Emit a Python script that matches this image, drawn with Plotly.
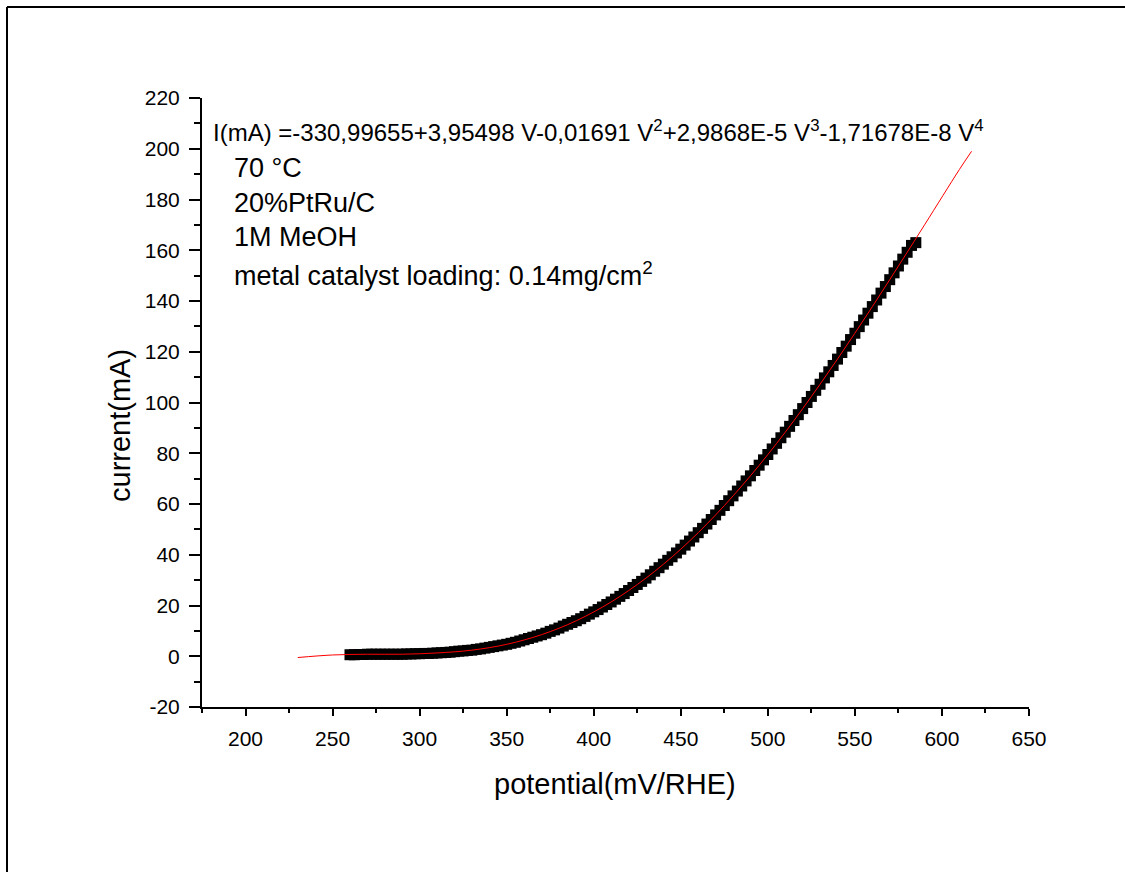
import plotly.graph_objects as go

# Measured data (potential in mV vs RHE, current in mA)
potential = [260, 262.5, 265, 267.5, 270, 272.5, 275, 277.5, 280, 282.5, 285, 287.5, 290, 292.5, 295, 297.5,
             300, 302.5, 305, 307.5, 310, 312.5, 315, 317.5, 320, 322.5, 325, 327.5, 330, 332.5, 335, 337.5,
             340, 342.5, 345, 347.5, 350, 352.5, 355, 357.5, 360, 362.5, 365, 367.5, 370, 372.5, 375, 377.5,
             380, 382.5, 385, 387.5, 390, 392.5, 395, 397.5, 400, 402.5, 405, 407.5, 410, 412.5, 415, 417.5,
             420, 422.5, 425, 427.5, 430, 432.5, 435, 437.5, 440, 442.5, 445, 447.5, 450, 452.5, 455, 457.5,
             460, 462.5, 465, 467.5, 470, 472.5, 475, 477.5, 480, 482.5, 485, 487.5, 490, 492.5, 495, 497.5,
             500, 502.5, 505, 507.5, 510, 512.5, 515, 517.5, 520, 522.5, 525, 527.5, 530, 532.5, 535, 537.5,
             540, 542.5, 545, 547.5, 550, 552.5, 555, 557.5, 560, 562.5, 565, 567.5, 570, 572.5, 575, 577.5,
             580, 582.5, 585]
current = [0.6, 0.6, 0.7, 0.7, 0.8, 0.8, 0.8, 0.8, 0.8, 0.8, 0.8, 0.8, 0.8, 0.9, 0.9, 1.0,
           1.0, 1.1, 1.1, 1.2, 1.3, 1.4, 1.5, 1.6, 1.8, 2.0, 2.1, 2.3, 2.4, 2.7, 2.9, 3.2,
           3.5, 3.8, 4.1, 4.4, 4.7, 5.1, 5.5, 6.0, 6.5, 7.0, 7.5, 8.0, 8.5, 9.1, 9.8, 10.4,
           11.1, 11.9, 12.6, 13.3, 14.0, 14.8, 15.7, 16.6, 17.5, 18.4, 19.4, 20.4, 21.4, 22.5, 23.6, 24.7,
           25.9, 27.1, 28.3, 29.5, 30.8, 32.1, 33.5, 34.9, 36.3, 37.8, 39.2, 40.7, 42.2, 43.8, 45.4, 47.0,
           48.7, 50.4, 52.1, 53.9, 55.7, 57.5, 59.4, 61.3, 63.2, 65.1, 67.1, 69.1, 71.1, 73.2, 75.3, 77.4,
           79.5, 81.7, 83.9, 86.1, 88.3, 90.6, 92.9, 95.2, 97.6, 100.0, 102.4, 104.8, 107.2, 109.7, 112.1, 114.6,
           117.1, 119.7, 122.2, 124.8, 127.3, 129.9, 132.5, 135.2, 137.8, 140.4, 143.1, 145.7, 148.4, 151.1, 153.8, 156.5,
           159.2, 161.9, 163.0]

# Polynomial fit curve
fit_potential = [230, 250, 270, 290, 310, 330, 350, 370, 390, 410, 430, 450, 470, 490, 510, 530, 550, 570, 590, 610, 617]
fit_current = [-0.5, 0.5, 0.8, 0.8, 1.3, 2.4, 4.7, 8.5, 14.0, 21.4, 30.8, 42.2, 55.7, 71.1, 88.3, 107.2, 127.3, 148.4, 170.0, 191.8, 199.0]

x_ticks = [200, 250, 300, 350, 400, 450, 500, 550, 600, 650]
x_labels = ["200", "250", "300", "350", "400", "450", "500", "550", "600", "650"]
y_ticks = [-20, 0, 20, 40, 60, 80, 100, 120, 140, 160, 180, 200, 220]
y_labels = ["-20", "0", "20", "40", "60", "80", "100", "120", "140", "160", "180", "200", "220"]

x_title = "potential(mV/RHE)"
y_title = "current(mA)"
equation = ("I(mA) =-330,99655+3,95498 V-0,01691 V<sup>2</sup>+2,9868E-5 V<sup>3</sup>"
            "-1,71678E-8 V<sup>4</sup>")
notes = ["70 °C", "20%PtRu/C", "1M MeOH", "metal catalyst loading: 0.14mg/cm<sup>2</sup>"]

FONT = "Liberation Sans, Arial, sans-serif"
W, H = 1125, 872
L, R, T, B = 202, 1029, 98, 707


def px(xp):
    return (xp - L) / (R - L)


def py(yp):
    return (B - yp) / (B - T)


fig = go.Figure()
fig.add_trace(go.Scatter(x=potential, y=current, mode="markers",
                         marker=dict(symbol="square", size=11, color="black", line=dict(width=0)),
                         showlegend=False))
fig.add_trace(go.Scatter(x=fit_potential, y=fit_current, mode="lines",
                         line=dict(color="red", width=1, shape="spline"), showlegend=False))

annotations = [dict(text=equation, x=px(211), y=py(131), xref="paper", yref="paper",
                    xanchor="left", yanchor="middle", showarrow=False,
                    font=dict(family=FONT, size=24, color="black"))]
note_y = [168, 203, 237, 274]
for t, yy in zip(notes, note_y):
    annotations.append(dict(text=t, x=px(232), y=py(yy), xref="paper", yref="paper",
                            xanchor="left", yanchor="middle", showarrow=False,
                            font=dict(family=FONT, size=27, color="black")))
annotations.append(dict(text=x_title, x=px(615), y=py(784), xref="paper", yref="paper",
                        xanchor="center", yanchor="middle", showarrow=False,
                        font=dict(family=FONT, size=29, color="black")))
annotations.append(dict(text=y_title, x=px(120), y=py(426), xref="paper", yref="paper",
                        xanchor="center", yanchor="middle", showarrow=False, textangle=-90,
                        font=dict(family=FONT, size=29, color="black")))

fig.update_layout(
    width=W, height=H,
    margin=dict(l=L, r=W - R, t=T, b=H - B),
    paper_bgcolor="white", plot_bgcolor="white",
    font=dict(family=FONT, color="black"),
    annotations=annotations,
    shapes=[dict(type="line", xref="paper", yref="paper", x0=px(7), x1=px(1125), y0=py(7), y1=py(7),
                 line=dict(color="black", width=2)),
            dict(type="line", xref="paper", yref="paper", x0=px(7), x1=px(7), y0=py(7), y1=py(H),
                 line=dict(color="black", width=2))],
    xaxis=dict(range=[175, 650], tickvals=x_ticks, ticktext=x_labels, showgrid=False, zeroline=False,
               showline=True, linecolor="black", linewidth=2, mirror=False,
               ticks="outside", ticklen=7, tickwidth=2, tickcolor="black", ticklabelstandoff=5,
               minor=dict(dtick=25, tick0=175, ticks="outside", ticklen=4, tickwidth=2, tickcolor="black"),
               tickfont=dict(family=FONT, size=21, color="black")),
    yaxis=dict(range=[-20, 220], tickvals=y_ticks, ticktext=y_labels, showgrid=False, zeroline=False,
               showline=True, linecolor="black", linewidth=2, mirror=False,
               ticks="outside", ticklen=11, tickwidth=2, tickcolor="black", ticklabelstandoff=5,
               minor=dict(dtick=10, tick0=0, ticks="outside", ticklen=6, tickwidth=2, tickcolor="black"),
               tickfont=dict(family=FONT, size=21, color="black")),
)

fig.write_html("out.html", config={"displayModeBar": False})
